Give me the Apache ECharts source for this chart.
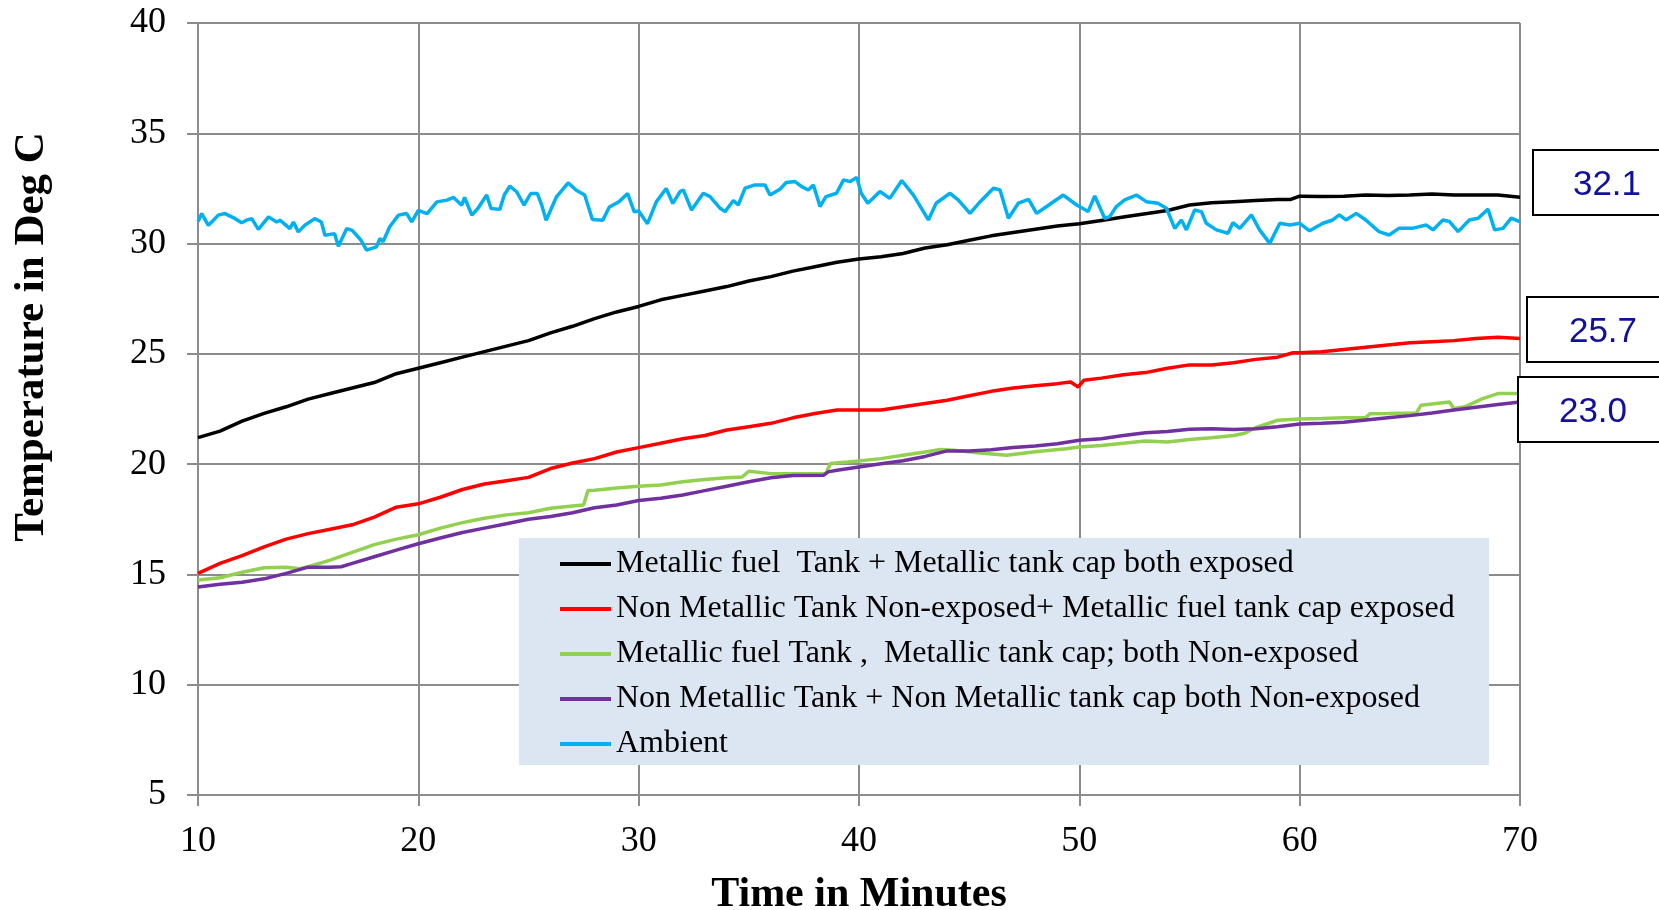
<!DOCTYPE html>
<html>
<head>
<meta charset="utf-8">
<script src="https://cdn.jsdelivr.net/npm/echarts@6/dist/echarts.min.js"></script>
<style>
html,body{margin:0;padding:0;background:#fff;}
#chart{width:1659px;height:910px;}
</style>
</head>
<body>
<div id="chart"></div>
<script>
// ---- data ----
const seriesNames = [
  'Metallic fuel  Tank + Metallic tank cap both exposed',
  'Non Metallic Tank Non-exposed+ Metallic fuel tank cap exposed',
  'Metallic fuel Tank ,  Metallic tank cap; both Non-exposed',
  'Non Metallic Tank + Non Metallic tank cap both Non-exposed',
  'Ambient'
];
const xTicks = [10, 20, 30, 40, 50, 60, 70];
const yTicks = [5, 10, 15, 20, 25, 30, 35, 40];
const endLabels = ['32.1', '25.7', '23.0'];

const blackT = [10,11,12,13,14,15,16,17,18,19,20,21,22,23,24,25,26,27,28,29,30,31,32,33,34,35,36,37,38,39,40,41,42,43,44,45,46,47,48,49,50,51,52,53,54,55,56,57,58,59,59.6,60,61,62,63,64,65,66,67,68,69,70];
const blackV = [21.2,21.5,21.95,22.3,22.6,22.95,23.2,23.45,23.7,24.1,24.35,24.6,24.85,25.1,25.35,25.6,25.95,26.25,26.6,26.9,27.15,27.45,27.65,27.85,28.05,28.3,28.5,28.75,28.95,29.15,29.3,29.4,29.55,29.8,29.95,30.15,30.35,30.5,30.65,30.8,30.9,31.05,31.2,31.35,31.5,31.75,31.85,31.9,31.95,32.0,32.0,32.15,32.13,32.15,32.2,32.18,32.2,32.25,32.2,32.2,32.2,32.1];

const redT = [10,11,12,13,14,15,16,17,18,19,20,21,22,23,24,25,26,27,28,29,30,31,32,33,34,35,36,37,38,39,40,41,42,43,44,45,46,47,48,49,49.6,49.95,50.2,51,52,53,54,55,56,57,58,59,59.7,60,61,62,63,64,65,66,67,68,69,70];
const redV = [15.05,15.5,15.85,16.25,16.6,16.85,17.05,17.25,17.6,18.05,18.2,18.5,18.85,19.1,19.25,19.4,19.8,20.05,20.25,20.55,20.75,20.95,21.15,21.3,21.55,21.7,21.85,22.1,22.3,22.45,22.45,22.45,22.6,22.75,22.9,23.1,23.3,23.45,23.55,23.65,23.72,23.5,23.8,23.9,24.05,24.15,24.35,24.5,24.5,24.6,24.75,24.85,25.05,25.05,25.1,25.2,25.3,25.4,25.5,25.55,25.6,25.7,25.75,25.7];

const greenT = [10,11,12,13,14,14.6,15,16,17,18,19,20,21,22,23,24,25,26,27,27.5,27.7,28,29,30,31,32,33,34,34.7,35,36,37,38.5,38.7,39.5,41,42,43,43.7,44.3,45.5,46.7,48,49.4,50,51,52,53,54,55,56,57,57.5,58,59,60,61,62,63,63.2,64,65.3,65.5,66.8,67,67.5,68.3,69,70];
const greenV = [14.75,14.85,15.1,15.3,15.33,15.26,15.35,15.65,16.0,16.35,16.6,16.8,17.1,17.35,17.55,17.7,17.8,18.0,18.1,18.15,18.8,18.82,18.92,19.0,19.05,19.2,19.3,19.38,19.42,19.68,19.57,19.57,19.57,20.03,20.1,20.25,20.4,20.55,20.66,20.63,20.5,20.4,20.56,20.7,20.78,20.85,20.95,21.05,21.0,21.12,21.2,21.3,21.4,21.65,21.99,22.05,22.07,22.1,22.11,22.29,22.3,22.32,22.67,22.82,22.52,22.6,22.97,23.2,23.2];

const purpleT = [10,11,12,13,14,15,16,16.5,17,18,19,20,21,22,23,24,25,26,27,28,29,30,31,32,33,34,35,36,37,38.4,38.6,39,40,41,42,43,44,45,46,47,48,49,50,51,52,53,54,55,56,57,58,59,60,61,62,63,64,65,66,67,68,69,70];
const purpleV = [14.43,14.55,14.65,14.8,15.05,15.33,15.33,15.35,15.5,15.8,16.1,16.39,16.65,16.9,17.1,17.3,17.5,17.63,17.8,18.02,18.15,18.35,18.45,18.6,18.8,19.0,19.2,19.38,19.48,19.5,19.65,19.72,19.87,20.02,20.15,20.35,20.6,20.6,20.65,20.75,20.82,20.92,21.08,21.15,21.3,21.42,21.48,21.58,21.6,21.57,21.6,21.7,21.82,21.85,21.9,22.0,22.1,22.2,22.32,22.45,22.58,22.7,22.82];

const ambientT = [10.0,10.17,10.47,10.7,10.92,11.22,11.6,11.98,12.2,12.44,12.74,13.2,13.57,13.72,14.17,14.33,14.55,14.85,15.3,15.6,15.76,16.2,16.37,16.75,17.0,17.4,17.65,18.1,18.26,18.4,18.7,19.1,19.47,19.7,20.0,20.4,20.84,21.3,21.6,21.97,22.1,22.43,22.7,23.1,23.3,23.7,23.9,24.15,24.46,24.8,25.1,25.4,25.6,25.8,26.27,26.8,27.17,27.55,27.9,28.37,28.67,29.1,29.5,29.8,30.0,30.4,30.8,31.25,31.55,31.88,32.03,32.4,32.93,33.24,33.7,33.92,34.3,34.52,34.83,35.28,35.73,35.96,36.41,36.7,37.1,37.4,37.7,37.93,38.23,38.5,38.98,39.3,39.6,39.9,40.1,40.4,40.95,41.4,41.94,42.47,43.15,43.5,44.13,44.5,45.04,45.5,46.1,46.4,46.78,47.23,47.7,48.06,48.5,49.27,49.88,50.4,50.7,51.15,51.38,51.68,52.06,52.59,53.04,53.57,53.95,54.33,54.63,54.86,55.23,55.54,55.76,56.22,56.75,56.97,57.28,57.81,58.18,58.64,59.1,59.55,60.0,60.45,61.06,61.5,61.8,62.1,62.57,63.0,63.6,64.06,64.5,65.1,65.75,66.05,66.5,66.8,67.19,67.7,68.1,68.55,68.85,69.23,69.6,69.98];
const ambientV = [31.0,31.36,30.83,31.06,31.29,31.36,31.18,30.94,31.06,31.13,30.64,31.21,30.98,31.06,30.68,30.98,30.53,30.83,31.13,30.98,30.38,30.45,29.88,30.68,30.6,30.15,29.7,29.85,30.23,30.08,30.76,31.29,31.36,30.98,31.5,31.36,31.89,31.97,32.09,31.74,32.09,31.29,31.59,32.2,31.59,31.55,32.2,32.6,32.35,31.74,32.27,32.27,31.74,31.06,32.12,32.75,32.42,32.2,31.09,31.06,31.66,31.89,32.27,31.44,31.48,30.9,31.89,32.5,31.82,32.36,32.43,31.52,32.28,32.13,31.6,31.45,31.95,31.75,32.51,32.66,32.66,32.2,32.46,32.77,32.81,32.58,32.43,32.66,31.68,32.13,32.28,32.89,32.81,33.0,32.28,31.83,32.36,32.05,32.86,32.2,31.07,31.83,32.28,31.98,31.37,31.9,32.51,32.43,31.15,31.83,32.0,31.37,31.67,32.2,31.75,31.45,32.16,31.15,31.22,31.68,31.98,32.2,31.9,31.83,31.6,30.69,31.07,30.62,31.52,31.45,30.92,30.62,30.47,30.95,30.69,31.3,30.62,30.01,30.92,30.84,30.92,30.58,30.92,31.07,31.3,31.07,31.37,31.07,30.54,30.39,30.69,30.69,30.84,30.62,31.07,31.0,30.54,31.07,31.15,31.56,30.62,30.69,31.15,31.0];

const colors = ['#000000', '#ff0000', '#92d050', '#7030a0', '#00b0f0'];
// ---------------------------------------

function zip(t, v) { return t.map((x, i) => [x, v[i]]); }
const allData = [
  zip(blackT, blackV), zip(redT, redV), zip(greenT, greenV),
  zip(purpleT, purpleV), zip(ambientT, ambientV)
];

const chart = echarts.init(document.getElementById('chart'), null, {renderer: 'canvas'});
const serif = '"Liberation Serif", "Times New Roman", serif';
const sans = '"Liberation Sans", Arial, sans-serif';

function valueBox(x1, y1, y2, textX, label) {
  return [
    {type: 'rect', z: 20, shape: {x: x1, y: y1, width: 1665 - x1, height: y2 - y1},
     style: {fill: '#ffffff', stroke: '#000000', lineWidth: 2}},
    {type: 'text', z: 21, x: textX, y: (y1 + y2) / 2 + 3,
     style: {text: label, fill: '#10109c', font: '35px ' + sans, textAlign: 'center', textVerticalAlign: 'middle'}}
  ];
}

const option = {
  animation: false,
  backgroundColor: '#ffffff',
  grid: {left: 198, right: 139, top: 23, bottom: 115, containLabel: false, outerBoundsMode: 'none'},
  xAxis: {
    type: 'value', min: 10, max: 70, interval: 10,
    name: 'Time in Minutes', nameLocation: 'middle', nameGap: 79,
    nameTextStyle: {fontFamily: serif, fontSize: 42, fontWeight: 'bold', color: '#000'},
    axisLine: {show: true, lineStyle: {color: '#8c8c8c', width: 2}},
    axisTick: {show: true, length: 11, lineStyle: {color: '#8c8c8c', width: 2}},
    axisLabel: {fontFamily: serif, fontSize: 36, color: '#000', margin: 29,
      formatter: v => xTicks.includes(v) ? String(v) : ''},
    splitLine: {show: true, lineStyle: {color: '#8c8c8c', width: 2}}
  },
  yAxis: {
    type: 'value', min: 5, max: 40, interval: 5,
    axisLine: {show: true, lineStyle: {color: '#8c8c8c', width: 2}},
    axisTick: {show: true, length: 11, lineStyle: {color: '#8c8c8c', width: 2}},
    axisLabel: {fontFamily: serif, fontSize: 36, color: '#000', margin: 32,
      formatter: v => yTicks.includes(v) ? String(v) : ''},
    splitLine: {show: true, lineStyle: {color: '#8c8c8c', width: 2}}
  },
  legend: {
    orient: 'vertical', left: 560, top: 548, z: 10,
    icon: 'rect', itemWidth: 51, itemHeight: 4, itemGap: 13, padding: 0,
    textStyle: {fontFamily: serif, fontSize: 32, color: '#000', lineHeight: 30},
    data: seriesNames.map((n, i) => ({name: n, itemStyle: {color: colors[i]}}))
  },
  graphic: [
    {type: 'rect', z: 5, shape: {x: 519, y: 538, width: 970, height: 227},
     style: {fill: '#dce6f2'}},
    {type: 'text', z: 5, x: 32, y: 337, rotation: Math.PI / 2,
     style: {text: 'Temperature in Deg C', font: 'bold 43px ' + serif, fill: '#000',
       textAlign: 'center', textVerticalAlign: 'middle'}},
    ...valueBox(1533, 150, 215, 1607, endLabels[0]),
    ...valueBox(1527, 297, 362, 1603, endLabels[1]),
    ...valueBox(1518, 377, 442, 1593, endLabels[2])
  ],
  series: seriesNames.map((n, i) => ({
    name: n, type: 'line', data: allData[i], symbol: 'none', showSymbol: false,
    z: 2 + i, clip: true,
    lineStyle: {color: colors[i], width: 3.5},
    itemStyle: {color: colors[i]}
  }))
};
chart.setOption(option);
</script>
</body>
</html>
